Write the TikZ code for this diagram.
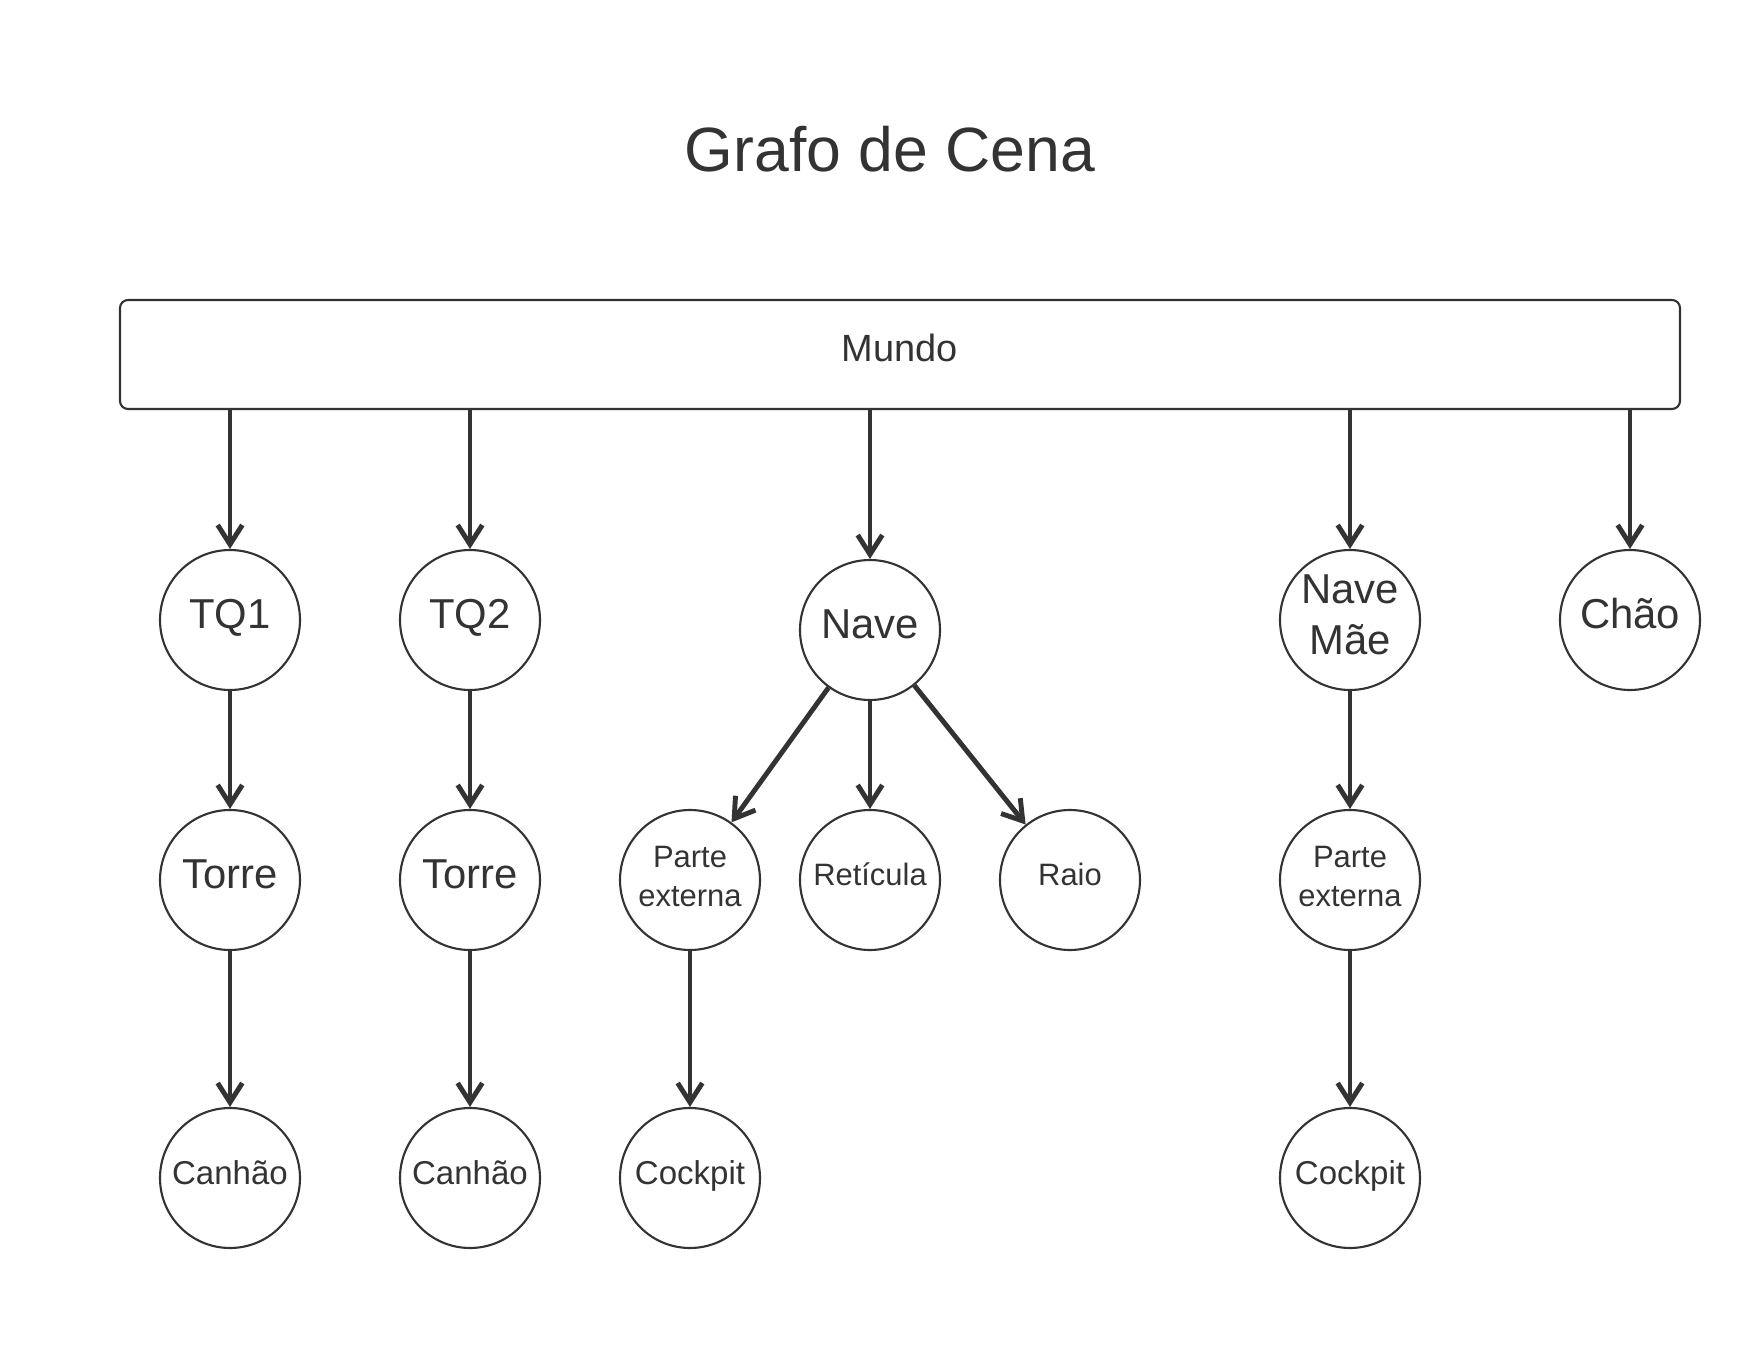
\documentclass[tikz,border=0pt]{standalone}
\usepackage{fontspec}
\setmainfont{Liberation Sans}
\usetikzlibrary{arrows.meta}
\definecolor{ink}{HTML}{333333}

\begin{document}
\begin{tikzpicture}[x=1mm,y=1mm]
    \tikzstyle{every node}+=[inner sep=0pt, text=ink]
    \tikzstyle{big}=[circle, draw=ink, line width=0.6pt, minimum size=14mm, font=\fontsize{11.9pt}{14.5pt}\selectfont, text height=9pt, text depth=4.4pt]
    \tikzstyle{mid}=[big, font=\fontsize{9.4pt}{11pt}\selectfont, text height=7pt, text depth=3.5pt]
    \tikzstyle{small}=[big, font=\fontsize{8.8pt}{10.5pt}\selectfont, text height=6.6pt, text depth=3.3pt]
    \tikzstyle{two}=[circle, draw=ink, line width=0.6pt, minimum size=14mm, align=center]
    \tikzstyle{arr}=[draw=ink, line width=1.4pt, -{Straight Barb[length=5.5pt,width=7pt]}]
    \useasboundingbox (0,0) rectangle (176,-136);
    \node [anchor=base, font=\fontsize{17.8pt}{21.5pt}\selectfont] (titulo) at (89,-17.1) {Grafo de Cena};
    \node [draw=ink, line width=0.6pt, rounded corners=0.8mm, minimum width=156mm, minimum height=10.9mm, font=\fontsize{10.8pt}{13pt}\selectfont, text height=8.1pt, text depth=4pt] (mundo) at (90,-35.45) {Mundo};
    \node [big] (tq1) at (23,-62) {TQ1};
    \node [big] (tq2) at (47,-62) {TQ2};
    \node [big] (nave) at (87,-63) {Nave};
    \node [two, font=\fontsize{11.9pt}{14.5pt}\selectfont, text depth=3pt] (navemae) at (135,-62) {Nave\\Mãe};
    \node [big] (chao) at (163,-62) {Chão};
    \node [big] (torre1) at (23,-88) {Torre};
    \node [big] (torre2) at (47,-88) {Torre};
    \node [two, font=\fontsize{8.8pt}{10.9pt}\selectfont, text depth=2pt] (parte1) at (69,-88) {Parte\\externa};
    \node [small] (reticula) at (87,-88) {Retícula};
    \node [small] (raio) at (107,-88) {Raio};
    \node [two, font=\fontsize{8.8pt}{10.9pt}\selectfont, text depth=2pt] (parte2) at (135,-88) {Parte\\externa};
    \node [mid] (canhao1) at (23,-117.8) {Canhão};
    \node [mid] (canhao2) at (47,-117.8) {Canhão};
    \node [mid] (cockpit1) at (69,-117.8) {Cockpit};
    \node [mid] (cockpit2) at (135,-117.8) {Cockpit};
    \draw [arr] (mundo.south -| tq1) -- (tq1);
    \draw [arr] (mundo.south -| tq2) -- (tq2);
    \draw [arr] (mundo.south -| nave) -- (nave);
    \draw [arr] (mundo.south -| navemae) -- (navemae);
    \draw [arr] (mundo.south -| chao) -- (chao);
    \draw [arr] (tq1) -- (torre1);
    \draw [arr] (torre1) -- (canhao1);
    \draw [arr] (tq2) -- (torre2);
    \draw [arr] (torre2) -- (canhao2);
    \draw [arr] (nave) -- (parte1);
    \draw [arr] (nave) -- (reticula);
    \draw [arr] (nave) -- (raio);
    \draw [arr] (parte1) -- (cockpit1);
    \draw [arr] (navemae) -- (parte2);
    \draw [arr] (parte2) -- (cockpit2);
\end{tikzpicture}
\end{document}
